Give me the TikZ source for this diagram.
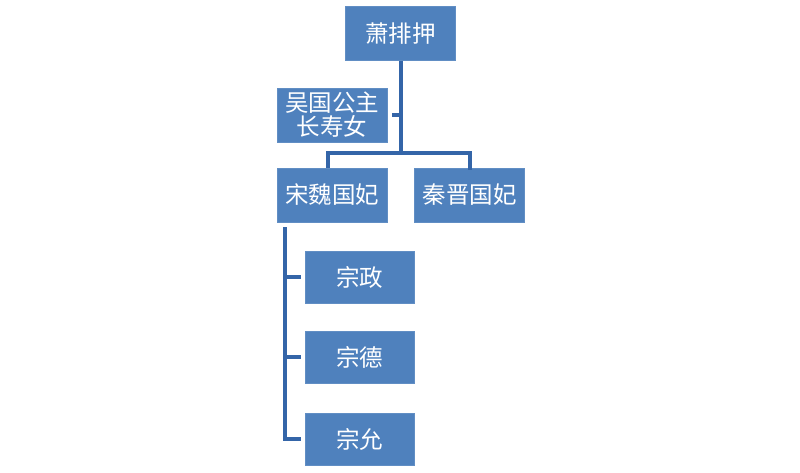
\documentclass[tikz,border=0pt]{standalone}
\usepackage{fontspec}
\newfontfamily\cjk{Noto Sans CJK SC}
\definecolor{boxblue}{HTML}{4F81BD}
\definecolor{lineblue}{HTML}{3465A8}
\begin{document}
\begin{tikzpicture}[x=1pt,y=-1pt,
  person/.style={draw=boxblue!90!white,fill=boxblue,text=white,inner sep=0pt,
    minimum width=110pt,minimum height=54pt,font=\cjk\fontsize{23.5}{24}\selectfont,align=center},
  link/.style={draw=lineblue,line width=4pt}]
\useasboundingbox[fill=white] (0,0) rectangle (800,473);
\node[person] (top) at (400.5,33.5) {萧排押};
\node[person] (wu) at (332,115) {吴国公主\\长寿女};
\node[person] (song) at (332,195) {宋魏国妃};
\node[person] (qin) at (469.5,195) {秦晋国妃};
\node[person,minimum width=109pt,minimum height=52pt] (zz) at (359.5,277) {宗政};
\node[person,minimum width=109pt,minimum height=52pt] (zd) at (359.5,357) {宗德};
\node[person,minimum width=109pt,minimum height=52pt] (zy) at (359.5,439) {宗允};
\coordinate (bar) at (401,153);
\coordinate (wuend) at (392,115);
\coordinate (lbar) at (330,153);
\coordinate (rbar) at (470,153);
\coordinate (vtop) at (285,227);
\coordinate (vbot) at (285,439);
\draw[link] (top.south -| bar) -- (bar);
\draw[link] (wuend) -- (wuend -| bar);
\draw[link] ([xshift=-2pt]lbar |- song.north) -- ++(0,-2) |- (bar) -| ([yshift=-2pt]rbar |- qin.north);
\draw[link] (vtop) -- (vbot) -- ([xshift=-4pt]zy.west);
\draw[link] (vtop |- zz.west) -- ([xshift=-4pt]zz.west);
\draw[link] (vtop |- zd.west) -- ([xshift=-4pt]zd.west);
\end{tikzpicture}
\end{document}
